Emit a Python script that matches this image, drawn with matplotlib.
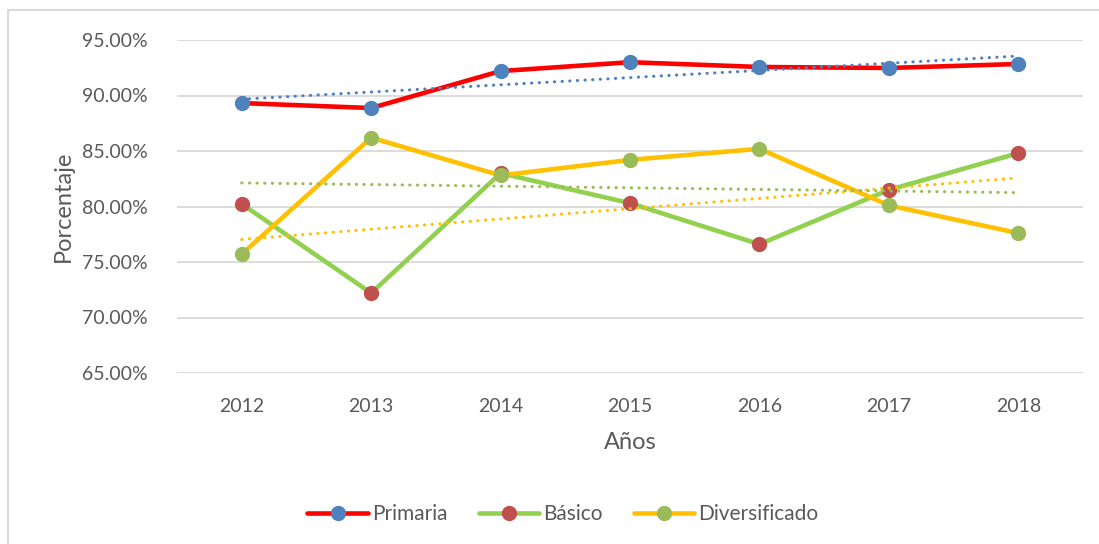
import matplotlib
matplotlib.use("Agg")
import matplotlib.pyplot as plt
from matplotlib.lines import Line2D
import numpy as np

years = ["2012", "2013", "2014", "2015", "2016", "2017", "2018"]
primaria = [89.32, 88.87, 92.20, 93.00, 92.57, 92.48, 92.84]
basico = [80.23, 72.20, 83.00, 80.30, 76.60, 81.50, 84.80]
diversificado = [75.70, 86.20, 82.80, 84.20, 85.20, 80.10, 77.60]
yticks = [65, 70, 75, 80, 85, 90, 95]

plt.rcParams['font.family'] = ['Lato', 'DejaVu Sans']

fig = plt.figure(figsize=(10.99, 5.44), dpi=100)
ax = fig.add_axes([177/1099, 1-373/544, (1083-177)/1099, (373-40)/544])

x = np.arange(len(years))
series = [
    ("Primaria", primaria, "#FF0000", "#4F81BD", "#4F81BD"),
    ("Básico", basico, "#92D050", "#C0504D", "#FFC000"),
    ("Diversificado", diversificado, "#FFC000", "#9BBB59", "#9BBB59"),
]
handles = []
for name, vals, lc, mc, tc in series:
    ax.plot(x, vals, color=lc, lw=3.3, marker='o', ms=10, mfc=mc, mec=mc,
            solid_capstyle='round', zorder=3)
    handles.append(Line2D([], [], color=lc, lw=3.3, marker='o', ms=10, mfc=mc, mec=mc,
                          solid_capstyle='round'))
for name, vals, lc, mc, tc in series:
    k, b = np.polyfit(x, vals, 1)
    ax.plot(x, k*x + b, color=tc, lw=2.2, linestyle=(0, (0.1, 2.4)),
            dash_capstyle='round', zorder=4)

ax.set_xlim(-0.5, len(years)-0.5)
ax.set_ylim(65, 95)
ax.set_yticks(yticks)
ax.set_yticklabels([f"{v:.2f}%" for v in yticks])
ax.set_xticks(x)
ax.set_xticklabels(years)
ax.yaxis.grid(True, color="#D9D9D9", lw=1.3)
ax.set_axisbelow(True)
for s in ax.spines.values():
    s.set_visible(False)
ax.tick_params(length=0, labelsize=14, labelcolor="#595959")
ax.tick_params(axis='x', pad=18)
ax.tick_params(axis='y', pad=21)
ax.set_ylabel("Porcentaje", fontsize=17, color="#595959", labelpad=6)
ax.set_xlabel("Años", fontsize=17, color="#595959", labelpad=12)

fig.legend(handles, [s[0] for s in series], loc='center', bbox_to_anchor=(563/1099, 1-514/544),
           ncol=3, frameon=False, fontsize=15, handlelength=2.9, columnspacing=1.5,
           handletextpad=0.2, labelcolor="#595959")

fig.add_artist(Line2D([8/1099, 1], [1-10/544, 1-10/544], color="#D9D9D9", lw=1.5))
fig.add_artist(Line2D([8/1099, 8/1099], [1-10/544, 0], color="#D9D9D9", lw=1.5))

fig.savefig("out.png", dpi=100)
